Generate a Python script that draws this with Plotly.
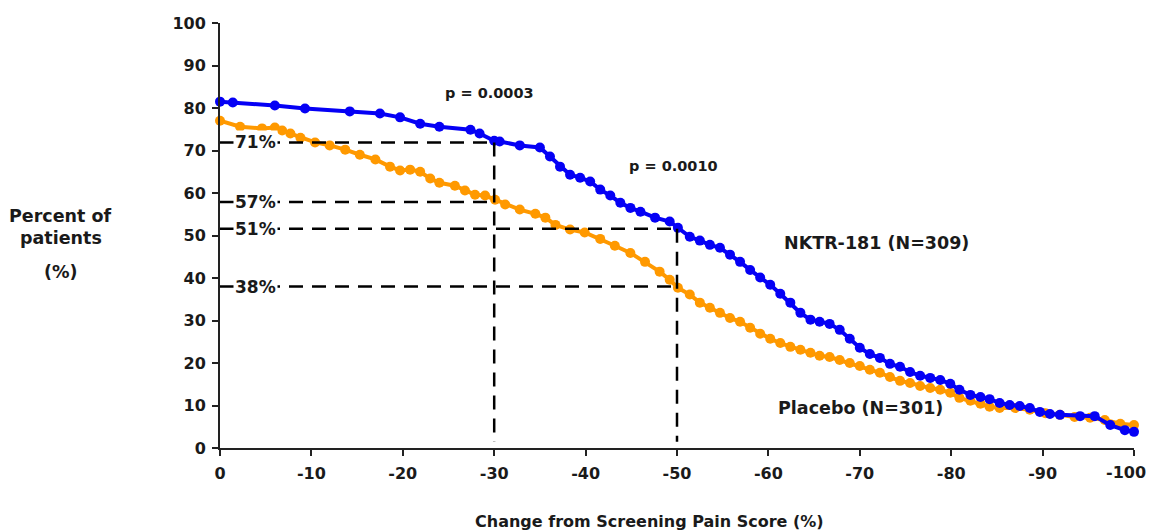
import plotly.graph_objects as go

# NKTR-181 (N=309) responder curve: change from screening (%) vs percent of patients
nktr_x = [0, -1.4, -6, -9.3, -14.2, -17.5, -19.7, -21.9, -24, -27.4, -28.4, -30, -30.6, -32.8, -35,
          -36.1, -37.2, -38.3, -39.4, -40.5, -41.6, -42.7, -43.8, -44.9, -46, -47.6, -49.2, -50.1,
          -51.4, -52.5, -53.6, -54.7, -55.8, -56.9, -58, -59.1, -60.2, -61.3, -62.4, -63.5, -64.6,
          -65.6, -66.7, -67.8, -68.9, -70, -71.1, -72.2, -73.3, -74.4, -75.5, -76.6, -77.7, -78.8,
          -79.9, -80.9, -82.1, -83.2, -84.2, -85.3, -86.4, -87.5, -88.6, -89.7, -90.8, -91.9, -94.1,
          -95.7, -97.4, -99, -100]
nktr_y = [81.5, 81.3, 80.6, 79.9, 79.2, 78.7, 77.8, 76.3, 75.6, 74.9, 74, 72.3, 72.1, 71.2, 70.7,
          68.6, 66.2, 64.3, 63.6, 62.7, 60.8, 59.4, 57.7, 56.5, 55.6, 54.2, 53.3, 51.8,
          49.7, 48.8, 47.8, 47.1, 45.5, 43.8, 41.9, 40.1, 38.4, 36.3, 34.2, 31.8, 30.2,
          29.7, 29.2, 27.8, 25.7, 23.6, 22.1, 21.2, 19.8, 19.1, 17.9, 17.0, 16.5, 16.0,
          15.1, 13.7, 12.5, 12.0, 11.5, 10.6, 10.1, 9.9, 9.4, 8.5, 8.0, 7.8, 7.5,
          7.5, 5.4, 4.2, 3.8]

# Placebo (N=301)
plac_x = [0, -2.2, -4.6, -6, -6.8, -7.7, -8.8, -10.4, -12, -13.7, -15.3, -17, -18.6, -19.7, -20.8,
          -21.9, -23, -24, -25.7, -26.8, -27.9, -29, -30.1, -31.2, -32.8, -34.5, -35.6, -36.7,
          -38.3, -39.9, -41.6, -43.2, -44.9, -46.5, -48.1, -49.2, -50.1, -51.4, -52.5, -53.6,
          -54.7, -55.8, -56.9, -58, -59.1, -60.2, -61.3, -62.4, -63.5, -64.6, -65.6, -66.7, -67.8,
          -68.9, -70, -71.1, -72.2, -73.3, -74.4, -75.5, -76.6, -77.7, -78.8, -79.9, -80.9, -82.1,
          -83.2, -84.2, -85.3, -87, -88.6, -90.3, -91.9, -93.5, -95.2, -96.8, -98.5, -100]
plac_y = [77, 75.6, 75.2, 75.4, 74.7, 74, 73, 71.9, 71.2, 70.2, 69, 67.9, 66.2, 65.3, 65.5,
          65, 63.4, 62.4, 61.7, 60.6, 59.6, 59.4, 58.4, 57.3, 56.1, 55.1, 54.2, 52.5,
          51.4, 50.7, 49.2, 47.6, 45.9, 43.8, 41.5, 39.6, 37.7, 36.1, 34.2, 33,
          31.8, 30.6, 29.7, 28.3, 26.9, 25.7, 24.7, 23.8, 23.1, 22.4, 21.7, 21.4, 20.7,
          20.0, 19.3, 18.4, 17.7, 16.7, 15.8, 15.3, 14.6, 14.1, 13.7, 13.0, 11.8, 11.1,
          10.4, 9.7, 9.4, 9.4, 9.0, 8.2, 7.8, 7.3, 7.1, 6.6, 5.7, 5.4]

# Reference guide lines (threshold x, responder level y, label)
guide_x = [-30, -30, -50, -50]
guide_y = [71.9, 57.9, 51.6, 38]
guide_labels = ["71%", "57%", "51%", "38%"]

x_ticks = [0, -10, -20, -30, -40, -50, -60, -70, -80, -90, -100]
x_ticktext = ["0", "-10", "-20", "-30", "-40", "-50", "-60", "-70", "-80", "-90", "-100"]
y_ticks = [0, 10, 20, 30, 40, 50, 60, 70, 80, 90, 100]

BLUE = "#0500f5"
ORANGE = "#ff9900"
FONT = "DejaVu Sans, Arial, sans-serif"
TXT = "#1a1a1a"

fig = go.Figure()
fig.add_trace(go.Scatter(x=plac_x, y=plac_y, mode="lines+markers",
                         line=dict(color=ORANGE, width=4),
                         marker=dict(color=ORANGE, size=10),
                         cliponaxis=False, showlegend=False))
fig.add_trace(go.Scatter(x=nktr_x, y=nktr_y, mode="lines+markers",
                         line=dict(color=BLUE, width=4),
                         marker=dict(color=BLUE, size=10),
                         cliponaxis=False, showlegend=False))

shapes = []
for gx, gy in zip(guide_x, guide_y):
    shapes.append(dict(type="line", xref="x", yref="y", x0=0, x1=gx, y0=gy, y1=gy,
                       line=dict(color="black", width=2.5, dash="14px,9px")))
for gx, gy in [(guide_x[0], guide_y[0]), (guide_x[2], guide_y[2])]:
    shapes.append(dict(type="line", xref="x", yref="y", x0=gx, x1=gx, y0=gy, y1=1.5,
                       line=dict(color="black", width=2.5, dash="14px,9px")))

annotations = []
for gy, lab in zip(guide_y, guide_labels):
    annotations.append(dict(x=-1.4, y=gy, xref="x", yref="y", text=lab, showarrow=False,
                            xanchor="left", yanchor="middle", bgcolor="white", borderpad=1,
                            font=dict(family=FONT, size=17, color=TXT, weight="bold")))
annotations += [
    dict(x=-29.5, y=83.6, xref="x", yref="y", text="p = 0.0003", showarrow=False,
         xanchor="center", yanchor="middle",
         font=dict(family=FONT, size=14.5, color=TXT, weight="bold")),
    dict(x=-49.6, y=66.4, xref="x", yref="y", text="p = 0.0010", showarrow=False,
         xanchor="center", yanchor="middle",
         font=dict(family=FONT, size=14.5, color=TXT, weight="bold")),
    dict(x=-71.8, y=48.3, xref="x", yref="y", text="NKTR-181 (N=309)", showarrow=False,
         xanchor="center", yanchor="middle",
         font=dict(family=FONT, size=17.5, color=TXT, weight="bold")),
    dict(x=-70.1, y=9.3, xref="x", yref="y", text="Placebo (N=301)", showarrow=False,
         xanchor="center", yanchor="middle",
         font=dict(family=FONT, size=17.5, color=TXT, weight="bold")),
    dict(x=-0.174, y=0.546, xref="paper", yref="paper", text="Percent of", showarrow=False,
         xanchor="center", yanchor="middle",
         font=dict(family=FONT, size=17.5, color=TXT, weight="bold")),
    dict(x=-0.174, y=0.494, xref="paper", yref="paper", text="patients", showarrow=False,
         xanchor="center", yanchor="middle",
         font=dict(family=FONT, size=17.5, color=TXT, weight="bold")),
    dict(x=-0.174, y=0.415, xref="paper", yref="paper", text="(%)", showarrow=False,
         xanchor="center", yanchor="middle",
         font=dict(family=FONT, size=17.5, color=TXT, weight="bold")),
    dict(x=0.470, y=-0.172, xref="paper", yref="paper", text="Change from Screening Pain Score (%)",
         showarrow=False, xanchor="center", yanchor="middle",
         font=dict(family=FONT, size=16, color=TXT, weight="bold")),
    # last x tick label, nudged left so it stays inside the page as in the original
    dict(x=x_ticks[-1], y=-0.057, xref="x", yref="paper", text=x_ticktext[-1],
         showarrow=False, xanchor="center", yanchor="middle", xshift=-8,
         font=dict(family=FONT, size=16, color=TXT, weight="bold")),
]

shown_ticktext = x_ticktext[:-1] + [""]

fig.update_layout(
    width=1146, height=523,
    margin=dict(l=212, r=20, t=15, b=83),
    plot_bgcolor="white", paper_bgcolor="white",
    shapes=shapes, annotations=annotations,
    font=dict(family=FONT, color=TXT),
)
fig.update_xaxes(range=[0, -100], tickvals=x_ticks, ticktext=shown_ticktext,
                 showgrid=False, zeroline=False, showline=True, linecolor="#222", linewidth=2,
                 ticks="outside", ticklen=6, tickwidth=2, tickcolor="#222",
                 ticklabeloverflow="allow", ticklabelstandoff=4, automargin=False,
                 tickfont=dict(family=FONT, size=16, color=TXT, weight="bold"))
fig.update_yaxes(range=[0, 100], tickvals=y_ticks,
                 showgrid=False, zeroline=False, showline=True, linecolor="#222", linewidth=2,
                 ticks="outside", ticklen=6, tickwidth=2, tickcolor="#222",
                 ticklabelstandoff=3, automargin=False,
                 tickfont=dict(family=FONT, size=16, color=TXT, weight="bold"))

fig.write_html("out.html")
